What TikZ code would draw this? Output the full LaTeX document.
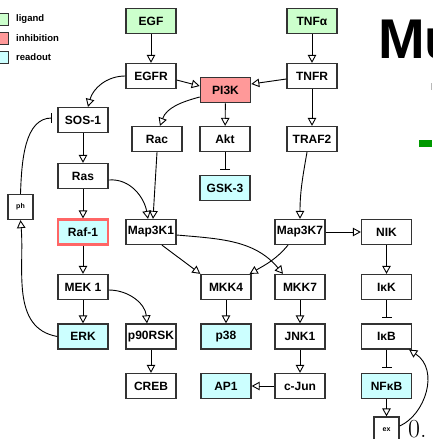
\documentclass[tikz,border=0pt]{standalone}
\usepackage{fontspec}
\newfontfamily\labelfont{Liberation Sans}
\usetikzlibrary{arrows.meta}
\definecolor{ligandfill}{HTML}{CCFFCC}
\definecolor{inhibfill}{HTML}{FF9999}
\definecolor{readfill}{HTML}{CCFFFF}
\definecolor{rafborder}{HTML}{FF6666}
\definecolor{boxline}{HTML}{333333}
\definecolor{bargreen}{HTML}{009900}

\begin{document}
\begin{tikzpicture}[x=1pt,y=1pt,
  box/.style={draw=boxline, line width=1.3pt, fill=white, minimum width=50pt,
    minimum height=25pt, inner sep=0pt,
    font=\labelfont\bfseries\fontsize{12}{12}\selectfont},
  ligand/.style={box, fill=ligandfill},
  readout/.style={box, fill=readfill},
  inhib/.style={box, fill=inhibfill, line width=1.6pt},
  smallbox/.style={box, minimum width=25pt,
    font=\labelfont\bfseries\fontsize{7}{7}\selectfont},
  legsq/.style={draw=boxline, line width=1pt, minimum size=12pt, inner sep=0pt},
  legtext/.style={anchor=west, inner sep=0pt,
    font=\labelfont\bfseries\fontsize{9.5}{9.5}\selectfont},
  act/.style={draw=black, line width=0.9pt,
    -{Triangle[open, length=8pt, width=8.5pt]}},
  blk/.style={draw=black, line width=0.9pt, -{Bar[width=10pt]}, shorten >=5pt},
]
\useasboundingbox (0,0) rectangle (432,-439);

% legend
\node[legsq, fill=ligandfill] (lg1) at (2,-19) {};
\node[legsq, fill=inhibfill]  (lg2) at (2,-38) {};
\node[legsq, fill=readfill]   (lg3) at (2,-57) {};
\node[legtext] (lt1) at (16,-19) {ligand};
\node[legtext] (lt2) at (16,-38) {inhibition};
\node[legtext] (lt3) at (16,-57) {readout};

% pathway nodes
\node[ligand]  (egf)    at (151,-21)  {EGF};
\node[ligand]  (tnfa)   at (312,-21)  {TNFα};
\node[box]     (egfr)   at (151,-76)  {EGFR};
\node[box]     (tnfr)   at (312,-76)  {TNFR};
\node[inhib]   (pi3k)   at (225.5,-90) {PI3K};
\node[box]     (sos)    at (83,-120)  {SOS-1};
\node[box]     (rac)    at (157,-139) {Rac};
\node[box]     (akt)    at (225,-139) {Akt};
\node[box]     (traf2)  at (312,-139) {TRAF2};
\node[box]     (ras)    at (83,-176)  {Ras};
\node[readout] (gsk)    at (225,-188) {GSK-3};
\node[smallbox] (ph)    at (20.5,-207) {ph};
\node[readout, draw=rafborder, line width=2.2pt] (raf) at (83,-232) {Raf-1};
\node[box]     (map3k1) at (151,-232) {Map3K1};
\node[box]     (map3k7) at (300,-232) {Map3K7};
\node[box]     (nik)    at (386.5,-232) {NIK};
\node[box]     (mek)    at (83,-287)  {MEK 1};
\node[box]     (mkk4)   at (226,-287) {MKK4};
\node[box]     (mkk7)   at (300,-287) {MKK7};
\node[box]     (ikk)    at (386.5,-287) {IκK};
\node[readout] (erk)    at (83,-336.5) {ERK};
\node[box]     (p90)    at (151,-336.5) {p90RSK};
\node[readout] (p38)    at (226,-336.5) {p38};
\node[box]     (jnk)    at (300,-336.5) {JNK1};
\node[box]     (ikb)    at (386.5,-336.5) {IκB};
\node[box]     (creb)   at (151,-386) {CREB};
\node[readout] (ap1)    at (226,-386) {AP1};
\node[box]     (cjun)   at (300,-386) {c-Jun};
\node[readout] (nfkb)   at (386.5,-386) {NFκB};
\node[smallbox] (ex)    at (386.5,-429.5) {ex};

% activations and inhibitions
\draw[act] (egf) -- (egfr);
\draw[act] (tnfa) -- (tnfr);
\draw[act] ([yshift=-4pt]egfr.east) -- ([yshift=4pt]pi3k.west);
\draw[act] ([yshift=-3pt]tnfr.west) -- ([yshift=6pt]pi3k.east);
\draw[act] (egfr.west) to[out=180, in=75] ([xshift=5pt]sos.north);
\draw[act] ([yshift=-7pt]pi3k.west) to[out=195, in=70] ([xshift=3pt]rac.north);
\draw[act] (pi3k) -- (akt);
\draw[blk] (akt) -- (gsk);
\draw[act] (tnfr) -- (traf2);
\draw[act] (sos) -- (ras);
\draw[act] ([yshift=-4pt]ras.east) to[out=5, in=100] ([xshift=-3pt]map3k1.north);
\draw[act] (rac.south) -- ([xshift=2pt]map3k1.north);
\draw[act] ([xshift=-5pt]traf2.south) to[out=-100, in=90] (map3k7.north);
\draw[act] (ras) -- (raf);
\draw[blk] (ph.north) to[out=88, in=180] ([yshift=2pt]sos.west);
\draw[act] (erk.west) to[out=170, in=-85] (ph.south);
\draw[act] (raf) -- (mek);
\draw[act] (mek) -- (erk);
\draw[act] ([yshift=-3pt]mek.east) to[out=0, in=95] ([xshift=-4pt]p90.north);
\draw[act] (p90) -- (creb);
\draw[act] ([xshift=11pt]map3k1.south) -- (mkk4.north west);
\draw[act] ([yshift=-3pt]map3k1.east) to[out=-5, in=130] ([xshift=-17pt]mkk7.north);
\draw[act] ([xshift=-12pt]map3k7.south) to[out=-130, in=30] ([xshift=-2pt]mkk4.north east);
\draw[act] (map3k7) -- (nik);
\draw[act] (nik) -- (ikk);
\draw[blk] (ikk) -- (ikb);
\draw[blk] (ikb) -- (nfkb);
\draw[act] (nfkb) -- (ex);
\draw[act] ([yshift=3.5pt]ex.east) .. controls (425,-415) and (440,-370) .. ([xshift=-3pt]ikb.south east);
\draw[act] (mkk4) -- (p38);
\draw[act] (mkk7) -- (jnk);
\draw[act] (jnk) -- (cjun);
\draw[act] (cjun) -- (ap1);

% slide fragments at the right edge
\node[anchor=base west, inner sep=0pt,
  font=\labelfont\bfseries\fontsize{56}{56}\selectfont] (title) at (378,-58) {Mu};
\fill[gray!55] (430.5,-83) rectangle (432,-90);
\fill[bargreen] (419,-140) rectangle (432,-147);
\node[anchor=base west, inner sep=0pt, font=\fontsize{26}{26}\selectfont] (zero) at (408,-437) {0.};
\end{tikzpicture}
\end{document}
